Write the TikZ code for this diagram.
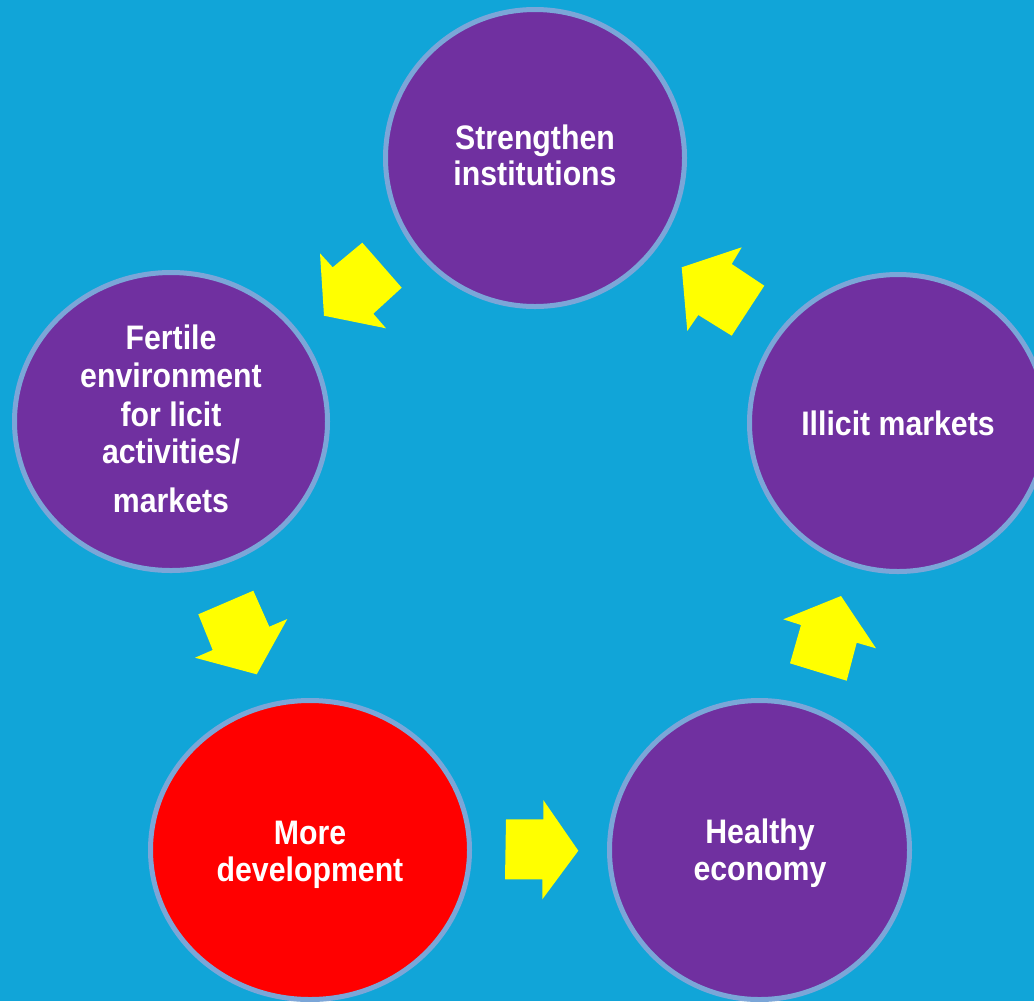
\documentclass[tikz,border=0pt]{standalone}
\usepackage{fontspec}
\setmainfont{Liberation Sans}[FakeStretch=0.89]
\usetikzlibrary{shapes.geometric}
\definecolor{bgc}{RGB}{17,165,216}
\definecolor{ringc}{RGB}{123,166,216}
\definecolor{purp}{RGB}{112,48,160}
\definecolor{redc}{RGB}{255,0,0}
\definecolor{arrc}{RGB}{255,255,0}
\begin{document}
\begin{tikzpicture}[x=0.75pt,y=-0.75pt,
  circ/.style={ellipse, draw=ringc, line width=3.75pt, inner sep=0pt, outer sep=0pt, fill=purp},
  lbl/.style={text=white, font=\bfseries\fontsize{25.5}{30}\selectfont, anchor=base, inner sep=0pt},
  blockarrow/.style={fill=arrc}]
\useasboundingbox (0,0) rectangle (1034,1001);
\fill[bgc] (0,0) rectangle (1034,1001);

% circles
\node[circ, minimum width=224.25pt, minimum height=222.75pt] (strength) at (535,158) {};
\node[circ, minimum width=234.75pt, minimum height=223.5pt] (fertile) at (171,421.5) {};
\node[circ, minimum width=222.75pt, minimum height=222.75pt] (illicit) at (898,423) {};
\node[circ, fill=redc, minimum width=239.25pt, minimum height=224.25pt] (moredev) at (310,850) {};
\node[circ, minimum width=225pt, minimum height=224.25pt] (healthy) at (759.5,850) {};

% texts
\node[lbl] (s1) at (535,149.3) {Strengthen};
\node[lbl] (s2) at (535,185) {institutions};

\node[lbl] (f1) at (171,349) {Fertile};
\node[lbl] (f2) at (171,387.5) {environment};
\node[lbl] (f3) at (171,426) {for licit};
\node[lbl] (f4) at (171,463.3) {activities/};
\node[lbl] (f5) at (171,512) {markets};

\node[lbl] (i1) at (898,435) {Illicit markets};

\node[lbl] (m1) at (310,844) {More};
\node[lbl] (m2) at (310,881) {development};

\node[lbl] (h1) at (760,843) {Healthy};
\node[lbl] (h2) at (760,880) {economy};

% block arrows
\fill[blockarrow] (320,253.3) -- (332.7,267.3) -- (362.3,242.7) -- (401.7,287.7) -- (373.3,313.7) -- (386,328.3) -- (324,315.7) -- cycle;
\fill[blockarrow] (681.7,267.3) -- (741.7,247.3) -- (731.7,264) -- (764.3,285.7) -- (731.7,335.7) -- (698.3,315) -- (687.3,331) -- cycle;
\fill[blockarrow] (198.3,614.3) -- (253.3,590.7) -- (269.3,626.7) -- (287.3,619) -- (256.7,674.3) -- (195,657.7) -- (212.7,650) -- cycle;
\fill[blockarrow] (506,819.3) -- (543.3,819.3) -- (543.3,800) -- (578.3,850.7) -- (542.3,899.3) -- (542.3,879.3) -- (505,879.3) -- cycle;
\fill[blockarrow] (783.3,619.3) -- (841,596) -- (876,648.3) -- (856.7,642.7) -- (846.7,680.7) -- (790,663.3) -- (801,625) -- cycle;
\end{tikzpicture}
\end{document}
